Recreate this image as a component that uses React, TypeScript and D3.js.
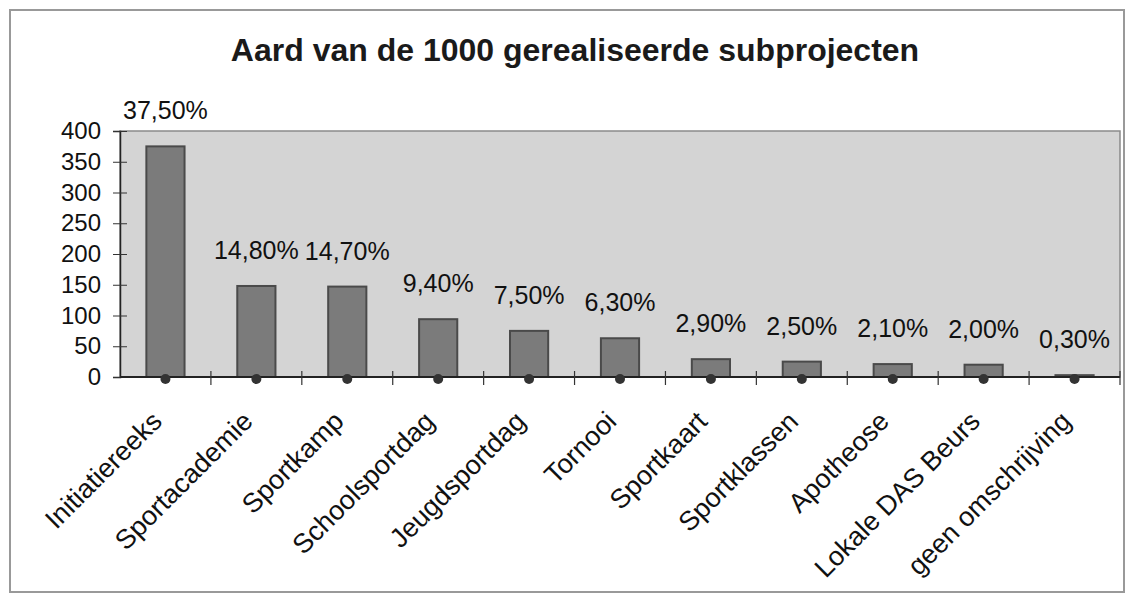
import React, { useEffect, useRef } from "react";
import * as d3 from "d3";

// Categories and counts (out of 1000 subprojects)
const CATEGORIES = [
  "Initiatiereeks",
  "Sportacademie",
  "Sportkamp",
  "Schoolsportdag",
  "Jeugdsportdag",
  "Tornooi",
  "Sportkaart",
  "Sportklassen",
  "Apotheose",
  "Lokale DAS Beurs",
  "geen omschrijving",
];
const COUNTS = [375, 148, 147, 94, 75, 63, 29, 25, 21, 20, 3];
const PERCENT_LABELS = [
  "37,50%", "14,80%", "14,70%", "9,40%", "7,50%", "6,30%",
  "2,90%", "2,50%", "2,10%", "2,00%", "0,30%",
];
const Y_TICKS = [0, 50, 100, 150, 200, 250, 300, 350, 400];
const TITLE = "Aard van de 1000 gerealiseerde subprojecten";

const FONT = "'Liberation Sans', Arial, sans-serif";

export default function App() {
  const svgRef = useRef<SVGSVGElement>(null);

  useEffect(() => {
    const width = 1134;
    const height = 598;
    const plot = { left: 120, right: 1120, top: 131, bottom: 377 };

    const svg = d3.select(svgRef.current);
    svg.selectAll("*").remove();

    // outer chart frame
    svg.append("rect")
      .attr("x", 10).attr("y", 10)
      .attr("width", width - 20).attr("height", height - 16)
      .attr("fill", "#fff").attr("stroke", "#999").attr("stroke-width", 2);

    svg.append("text")
      .attr("x", 575).attr("y", 61)
      .attr("text-anchor", "middle")
      .attr("font-family", FONT).attr("font-weight", "bold").attr("font-size", 32)
      .attr("fill", "#1a1a1a")
      .text(TITLE);

    const x = d3.scaleBand<string>()
      .domain(CATEGORIES)
      .range([plot.left, plot.right])
      .paddingInner(0.58).paddingOuter(0.29);
    const y = d3.scaleLinear().domain([0, 400]).range([plot.bottom, plot.top]);

    // plot area
    svg.append("rect")
      .attr("x", plot.left).attr("y", plot.top)
      .attr("width", plot.right - plot.left).attr("height", plot.bottom - plot.top)
      .attr("fill", "#d4d4d4").attr("stroke", "#8a8a8a").attr("stroke-width", 1.5);

    // bars
    svg.append("g").selectAll("rect")
      .data(COUNTS)
      .join("rect")
      .attr("x", (_, i) => x(CATEGORIES[i])!)
      .attr("y", (d) => y(d))
      .attr("width", x.bandwidth())
      .attr("height", (d) => y(0) - y(d))
      .attr("fill", "#7b7b7b")
      .attr("stroke", "#4a4a4a").attr("stroke-width", 2);

    // y axis
    const yAxis = svg.append("g")
      .attr("transform", `translate(${plot.left},0)`)
      .call(d3.axisLeft(y).tickValues(Y_TICKS).tickSize(7).tickPadding(12).tickFormat(d3.format("d")));
    yAxis.select(".domain").attr("stroke", "#222").attr("stroke-width", 1.5);
    yAxis.selectAll(".tick line").attr("stroke", "#333").attr("x2", 7).attr("x1", -7);
    yAxis.selectAll(".tick text")
      .attr("font-family", FONT).attr("font-size", 24).attr("fill", "#111");

    // x axis line and category ticks between bars
    const step = x.step();
    const xg = svg.append("g");
    xg.append("line")
      .attr("x1", plot.left).attr("x2", plot.right)
      .attr("y1", plot.bottom).attr("y2", plot.bottom)
      .attr("stroke", "#222").attr("stroke-width", 2);
    xg.selectAll("line.tick")
      .data(d3.range(1, CATEGORIES.length + 1))
      .join("line")
      .attr("class", "tick")
      .attr("x1", (i) => plot.left + i * step).attr("x2", (i) => plot.left + i * step)
      .attr("y1", plot.bottom - 6).attr("y2", plot.bottom + 8)
      .attr("stroke", "#333").attr("stroke-width", 1.2);

    // markers of the percentage series (sit at ~0 on the count axis)
    svg.append("g").selectAll("circle")
      .data(CATEGORIES)
      .join("circle")
      .attr("cx", (d) => x(d)! + x.bandwidth() / 2)
      .attr("cy", plot.bottom + 2)
      .attr("r", 5)
      .attr("fill", "#333");

    // percentage labels
    svg.append("g").selectAll("text")
      .data(PERCENT_LABELS)
      .join("text")
      .attr("x", (_, i) => x(CATEGORIES[i])! + x.bandwidth() / 2)
      .attr("y", (_, i) => y(COUNTS[i]) - 27)
      .attr("text-anchor", "middle")
      .attr("font-family", FONT).attr("font-size", 25).attr("fill", "#111")
      .text((d) => d);

    // rotated category labels
    svg.append("g").selectAll("text")
      .data(CATEGORIES)
      .join("text")
      .attr("transform", (d) => `translate(${x(d)! + x.bandwidth() / 2 - 2},${plot.bottom + 46}) rotate(-45)`)
      .attr("text-anchor", "end")
      .attr("font-family", FONT).attr("font-size", 27).attr("fill", "#111")
      .text((d) => d);
  }, []);

  return (
    <svg
      ref={svgRef}
      width={1134}
      height={598}
      style={{ position: "absolute", left: 0, top: 0, background: "#fff" }}
    />
  );
}
